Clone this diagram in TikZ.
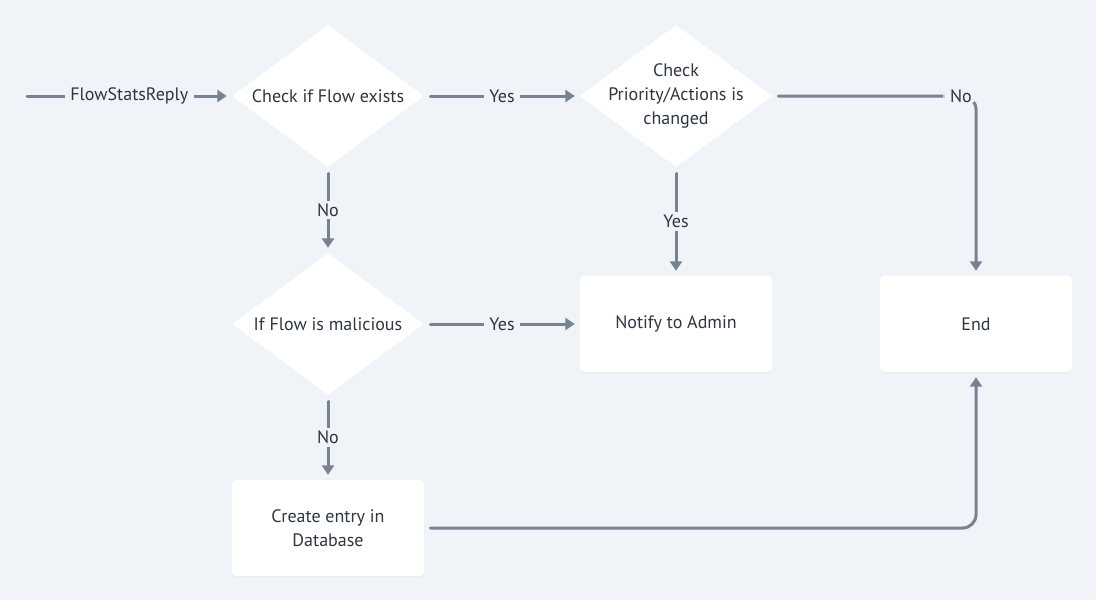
\documentclass[tikz,border=0pt]{standalone}
\usepackage{fontspec}
\setmainfont{PT Sans}
\usetikzlibrary{arrows.meta,shapes.geometric,shadows}
\definecolor{bg}{HTML}{F0F3F7}
\definecolor{ln}{HTML}{778391}
\definecolor{tx}{HTML}{2D3642}
\begin{document}
\begin{tikzpicture}[x=0.75pt,y=-0.75pt,
  font=\fontsize{13.5}{18}\selectfont, text=tx,
  dia/.style={shape=diamond, fill=white, draw=none, inner sep=0pt, minimum width=144pt, minimum height=106.5pt},
  box/.style={rectangle, fill=white, rounded corners=3pt, minimum width=144pt, minimum height=72pt, align=center,
    drop shadow={opacity=0.06, shadow xshift=0pt, shadow yshift=-1pt}},
  conn/.style={draw=ln, line width=2.25pt, line cap=round, -{Triangle[length=7pt,width=9pt]},
    shorten <=4.5pt, shorten >=3.75pt},
  lbl/.style={fill=bg, inner xsep=4pt, inner ysep=2pt, text=tx}
]
\fill[bg] (0,0) rectangle (1096,600);
\useasboundingbox (0,0) rectangle (1096,600);

\coordinate (start) at (27,96);
\node[dia, label={[align=center]center:Check if Flow exists}] (d1) at (328,96) {};
\node[dia, label={[align=center]center:Check\\Priority/Actions is\\changed}] (d2) at (676,96) {};
\node[dia, label={[align=center]center:If Flow is malicious}] (d3) at (328,324) {};
\node[box] (notify) at (676,324) {Notify to Admin};
\node[box] (end) at (976,324) {End};
\node[box] (create) at (328,528) {Create entry in\\Database};

\draw[conn, shorten <=0pt] (start) -- node[lbl] {FlowStatsReply} (d1.west);
\draw[conn] (d1.east) -- node[lbl] {Yes} (d2.west);
\draw[conn] (d1.south) -- node[lbl] {No} (d3.north);
\draw[conn] (d2.south) -- node[lbl] {Yes} (notify.north);
\draw[conn] (d3.east) -- node[lbl] {Yes} (notify.west);
\draw[conn] (d3.south) -- node[lbl] {No} (create.north);
\draw[conn, rounded corners=10pt] (d2.east) -| node[pos=0.463, lbl, inner xsep=5pt] {No} (end.north);
\draw[conn, rounded corners=10pt] (create.east) -| (end.south);
\end{tikzpicture}
\end{document}
